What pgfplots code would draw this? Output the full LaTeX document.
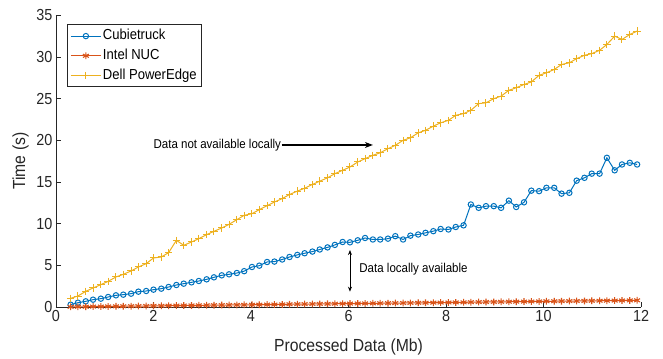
\documentclass[border=0pt]{standalone}
\usepackage{fontspec}
\setmainfont{Liberation Sans}[FakeStretch=0.9]
\usepackage{pgfplots}
\pgfplotsset{compat=1.18}
\usepackage{pgfplotstable}
\usetikzlibrary{arrows.meta}
\definecolor{mblue}{rgb}{0,0.447,0.741}
\definecolor{mred}{rgb}{0.85,0.325,0.098}
\definecolor{myel}{rgb}{0.929,0.694,0.125}
\definecolor{axgray}{rgb}{0.15,0.15,0.15}
\pgfplotstableread{
x c n d
0.30 0.28 0.02 1.04
0.45 0.52 0.03 1.32
0.61 0.68 0.03 1.88
0.76 0.88 0.05 2.28
0.92 1.00 0.05 2.68
1.07 1.20 0.07 3.08
1.23 1.40 0.08 3.60
1.38 1.48 0.09 3.92
1.54 1.60 0.10 4.32
1.69 1.84 0.11 4.80
1.85 1.92 0.12 5.20
2.00 2.08 0.14 5.88
2.16 2.20 0.14 6.00
2.31 2.40 0.16 6.52
2.47 2.64 0.17 8.00
2.62 2.80 0.18 7.40
2.78 2.96 0.19 7.80
2.93 3.12 0.20 8.20
3.09 3.32 0.21 8.68
3.24 3.56 0.22 9.08
3.40 3.80 0.23 9.48
3.55 3.92 0.24 9.92
3.71 4.08 0.25 10.48
3.86 4.30 0.26 11.00
4.02 4.80 0.27 11.20
4.17 4.96 0.28 11.68
4.33 5.40 0.29 12.16
4.48 5.45 0.30 12.60
4.64 5.70 0.31 13.00
4.79 6.00 0.33 13.50
4.95 6.25 0.34 13.90
5.10 6.45 0.35 14.25
5.26 6.65 0.36 14.70
5.41 6.90 0.37 15.10
5.57 7.15 0.38 15.50
5.72 7.45 0.39 16.00
5.88 7.80 0.40 16.40
6.03 7.76 0.41 16.80
6.19 8.00 0.42 17.40
6.34 8.28 0.43 17.80
6.50 8.10 0.44 18.20
6.65 8.10 0.45 18.50
6.81 8.20 0.46 19.00
6.96 8.50 0.47 19.40
7.12 8.10 0.48 20.00
7.27 8.56 0.49 20.30
7.43 8.70 0.50 20.90
7.58 8.90 0.51 21.20
7.74 9.10 0.52 21.70
7.89 9.36 0.53 22.10
8.05 9.30 0.54 22.40
8.20 9.60 0.55 23.00
8.36 9.80 0.56 23.20
8.51 12.30 0.58 23.60
8.67 11.90 0.59 24.40
8.82 12.10 0.60 24.50
8.98 12.10 0.61 25.00
9.13 11.90 0.62 25.30
9.29 12.76 0.63 26.00
9.44 12.00 0.64 26.30
9.60 12.56 0.65 26.70
9.75 13.96 0.66 27.00
9.91 13.90 0.67 27.80
10.06 14.30 0.69 28.10
10.22 14.30 0.69 28.50
10.37 13.60 0.70 29.10
10.53 13.70 0.71 29.30
10.68 15.16 0.72 29.80
10.84 15.50 0.73 30.20
10.99 16.00 0.74 30.40
11.15 16.00 0.75 30.80
11.30 17.90 0.76 31.50
11.46 16.40 0.77 32.50
11.61 17.10 0.78 32.10
11.77 17.30 0.79 32.70
11.92 17.10 0.80 33.10
}\data
\begin{document}
\begin{tikzpicture}
\useasboundingbox (-56pt,-51.3pt) rectangle (607pt,307pt);
\begin{axis}[
  at={(0,0)}, anchor=south west,
  width=585pt, height=291.7pt, scale only axis,
  xmin=0, xmax=12, ymin=0, ymax=35,
  xtick={0,2,...,12}, ytick={0,5,...,35},
  axis x line*=bottom, axis y line*=left,
  axis line style={-, draw=axgray, line width=0.8pt},
  tick align=inside, major tick length=5.5pt,
  tick style={draw=axgray, line width=0.8pt},
  tick label style={font=\fontsize{16}{16}\selectfont, text=axgray},
  /pgf/number format/assume math mode=true,
  xlabel={Processed Data (Mb)}, ylabel={Time (s)},
  label style={font=\fontsize{17.5}{18}\selectfont, text=axgray},
  xlabel style={at={(axis description cs:0.5,-0.137)}, anchor=center},
  ylabel style={at={(axis description cs:-0.0607,0.5)}, anchor=center},
  clip=false,
  legend cell align=left,
  legend image code/.code={\draw[mark repeat=2,mark phase=2,#1] plot coordinates {(0pt,0pt)(15pt,0pt)(30pt,0pt)};},
  legend style={at={(axis description cs:0.0188,0.969)}, anchor=north west,
    draw=axgray, line width=0.8pt, inner sep=3pt, row sep=3pt,
    font=\fontsize{14.5}{15}\selectfont, text=black,
    nodes={inner sep=1.6pt, text height=10.5pt, text depth=3pt}},
]
\addplot[mblue, line width=1pt, mark=o, mark size=2.7pt, mark options={line width=1pt}] table[x=x,y=c]{\data};
\addlegendentry{Cubietruck}
\addplot[mred, line width=1pt, mark=asterisk, mark size=3.4pt, mark options={line width=1.1pt}] table[x=x,y=n]{\data};
\addlegendentry{Intel NUC}
\addplot[myel, line width=1pt, mark=+, mark size=3.7pt, mark options={line width=1pt}] table[x=x,y=d]{\data};
\addlegendentry{Dell PowerEdge}
\node[anchor=east, inner sep=0pt, font=\fontsize{12.8}{13}\selectfont] at (axis cs:4.62,19.44) {Data not available locally};
\draw[-{Stealth[length=8pt,width=6pt]}, line width=1.1pt] (axis cs:4.63,19.44) -- (axis cs:6.5,19.44);
\draw[{Stealth[length=5pt,width=4pt]}-{Stealth[length=5pt,width=4pt]}, line width=0.9pt] (axis cs:6.03,6.84) -- (axis cs:6.03,1.84);
\node[anchor=west, inner sep=0pt, font=\fontsize{12.8}{13}\selectfont] at (axis cs:6.22,4.52) {Data locally available};
\end{axis}
\end{tikzpicture}
\end{document}
